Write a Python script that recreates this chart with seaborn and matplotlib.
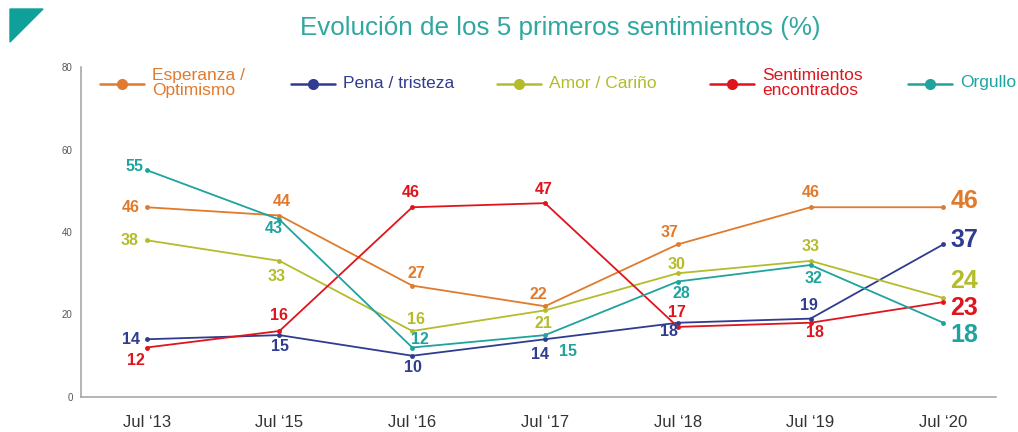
import pandas as pd
import matplotlib.pyplot as plt
import seaborn as sns
from matplotlib.lines import Line2D
from matplotlib.patches import Polygon

periods = ['Jul ‘13', 'Jul ‘15', 'Jul ‘16', 'Jul ‘17', 'Jul ‘18', 'Jul ‘19', 'Jul ‘20']
esperanza = [46, 44, 27, 22, 37, 46, 46]
pena = [14, 15, 10, 14, 18, 19, 37]
amor = [38, 33, 16, 21, 30, 33, 24]
sentimientos = [12, 16, 46, 47, 17, 18, 23]
orgullo = [55, 43, 12, 15, 28, 32, 18]
series_names = ['Esperanza /\nOptimismo', 'Pena / tristeza', 'Amor / Cariño',
                'Sentimientos\nencontrados', 'Orgullo']
colors = ['#E07B2E', '#2F3C8F', '#B4BC2B', '#E0141C', '#1FA39E']

all_values = [esperanza, pena, amor, sentimientos, orgullo]

rows = []
for name, vals in zip(series_names, all_values):
    for i, v in enumerate(vals):
        rows.append({'periodo': i, 'serie': name, 'valor': v})
df = pd.DataFrame(rows)

sns.set_style('white')
plt.rcParams['font.family'] = ['Liberation Sans', 'DejaVu Sans']

fig = plt.figure(figsize=(10.18, 4.32), dpi=100)
ax = fig.add_axes([81 / 1018, 1 - 397 / 432, (996 - 81) / 1018, (397 - 67) / 432])

sns.lineplot(data=df, x='periodo', y='valor', hue='serie', hue_order=series_names,
             palette=dict(zip(series_names, colors)), marker='o', markersize=3.5,
             markeredgewidth=0, linewidth=1.3, sort=False, legend=False, ax=ax)

# label offsets (pixels) for each point
offsets = [
    [(-16, 0), (2, 14), (4, 12), (-7, 12), (-8, 12), (0, 15)],
    [(-16, 0), (1, -11), (1, -12), (-5, -15), (-9, -9), (-2, 13)],
    [(-17, 0), (-3, -16), (4, 11), (-2, -13), (-1, 9), (0, 14)],
    [(-11, -13), (0, 15), (-1, 15), (-1, 14), (-1, 14), (4, -10)],
    [(-12, 4), (-6, -9), (8, 8), (23, -16), (4, -12), (3, -13)],
]
last_dy = [6, 4, 17, -6, -12]

for s, vals in enumerate(all_values):
    for i, v in enumerate(vals[:-1]):
        dx, dy = offsets[s][i]
        arrow = None
        if s == 4 and i == 3:
            arrow = dict(arrowstyle='-', color='#c8c8c8', lw=0.6, shrinkA=6, shrinkB=3)
        ax.annotate(str(v), (i, v), xytext=(dx, dy), textcoords='offset pixels',
                    ha='center', va='center', fontsize=11.5, fontweight='bold',
                    color=colors[s], arrowprops=arrow)
    ax.annotate(str(vals[-1]), (len(vals) - 1, vals[-1]), xytext=(7, last_dy[s]),
                textcoords='offset pixels', ha='left', va='center', fontsize=18,
                fontweight='bold', color=colors[s])

ax.set_xlim(-0.495, 6.397)
ax.set_ylim(0, 80)
ax.set_xticks(range(len(periods)))
ax.set_xticklabels(periods)
ax.set_yticks([0, 20, 40, 60, 80])
ax.set_xlabel('')
ax.set_ylabel('')
ax.tick_params(axis='x', length=0, pad=13, labelsize=12, labelcolor='#333333')
ax.tick_params(axis='y', direction='in', length=2.5, width=0.8, color='#999999',
               pad=6, labelsize=7, labelcolor='#555555')
for side in ['top', 'right']:
    ax.spines[side].set_visible(False)
for side in ['left', 'bottom']:
    ax.spines[side].set_color('#a0a0a0')
    ax.spines[side].set_linewidth(1.1)

# legend drawn by hand along the top
leg_x = [100, 291, 497, 710, 908]
for s, name in enumerate(series_names):
    x0 = leg_x[s]
    fig.add_artist(Line2D([x0 / 1018, (x0 + 44) / 1018], [1 - 84 / 432] * 2,
                          color=colors[s], linewidth=1.8,
                          transform=fig.transFigure))
    fig.add_artist(Line2D([(x0 + 22) / 1018], [1 - 84 / 432], color=colors[s],
                          marker='o', markersize=8, markeredgewidth=0,
                          transform=fig.transFigure))
    fig.text((x0 + 52) / 1018, 1 - 83 / 432, name, ha='left', va='center',
             fontsize=12.5, color=colors[s], linespacing=1.0)

fig.text(560 / 1018, 1 - 28 / 432, 'Evolución de los 5 primeros sentimientos (%)',
         ha='center', va='center', fontsize=18.7, color='#2FA8A0')

fig.add_artist(Polygon([[10 / 1018, 1 - 9 / 432], [43 / 1018, 1 - 9 / 432],
                        [10 / 1018, 1 - 42 / 432]], closed=True,
                       color='#10A09A', transform=fig.transFigure))

fig.savefig('out.png', dpi=100)
